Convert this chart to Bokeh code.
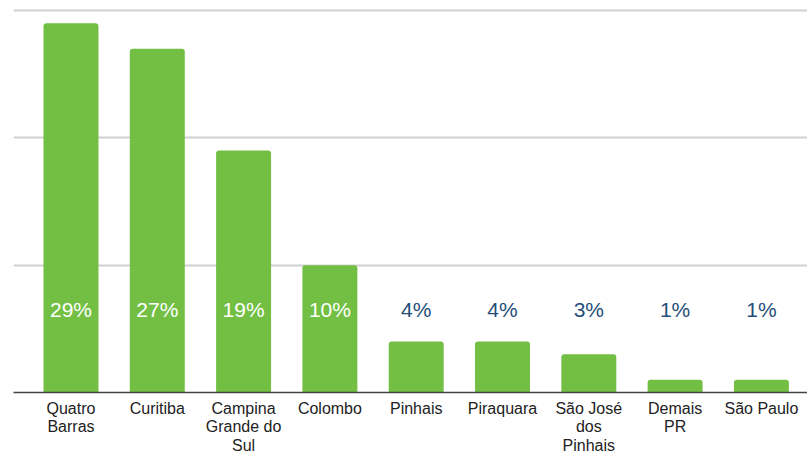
from bokeh.plotting import figure
from bokeh.models import Range1d, FixedTicker, ColumnDataSource
from bokeh.core.properties import value
from bokeh.embed import file_html
from bokeh.resources import INLINE

categories = ["Quatro\nBarras", "Curitiba", "Campina\nGrande do\nSul", "Colombo", "Pinhais",
              "Piraquara", "São José\ndos\nPinhais", "Demais\nPR", "São Paulo"]
values = [29, 27, 19, 10, 4, 4, 3, 1, 1]
labels = ["29%", "27%", "19%", "10%", "4%", "4%", "3%", "1%", "1%"]
label_colors = ["white", "white", "white", "white", "#1f4e79", "#1f4e79", "#1f4e79", "#1f4e79", "#1f4e79"]
yticks = [0, 10, 20, 30]

xs = list(range(len(categories)))
src = ColumnDataSource(dict(x=xs, top=values, lab=labels, col=label_colors,
                            ly=[6.52] * len(xs)))

p = figure(width=807, height=456, output_backend="svg", toolbar_location=None,
           x_range=Range1d(-0.666, 8.534), y_range=Range1d(0, 30.785),
           min_border_left=13, min_border_right=0, min_border_top=0, min_border_bottom=64)
p.outline_line_color = None
p.background_fill_color = "white"

p.vbar(x="x", top="top", bottom=0, width=0.637, source=src, fill_color="#72bf44",
       line_color=None, border_radius=(3, 3, 0, 0))

p.text(x="x", y="ly", text="lab", text_color="col", source=src, text_align="center",
       text_baseline="middle", text_font=value("Liberation Sans"), text_font_size="21px")

p.yaxis.visible = False
p.ygrid.ticker = FixedTicker(ticks=yticks)
p.ygrid.grid_line_color = "#d0d0d0"
p.ygrid.grid_line_width = 2
p.xgrid.visible = False

ax = p.xaxis[0]
ax.ticker = FixedTicker(ticks=xs)
ax.major_label_overrides = {i: c for i, c in enumerate(categories)}
ax.major_tick_line_color = None
ax.minor_tick_line_color = None
ax.major_tick_out = 0
ax.major_tick_in = 0
ax.major_label_standoff = 7
ax.axis_line_color = "#444444"
ax.axis_line_width = 1.5
ax.major_label_text_font = "Liberation Sans"
ax.major_label_text_font_size = "16px"
ax.major_label_text_color = "#222222"
ax.major_label_text_line_height = 1.1

open("out.html", "w").write(file_html(p, INLINE))
